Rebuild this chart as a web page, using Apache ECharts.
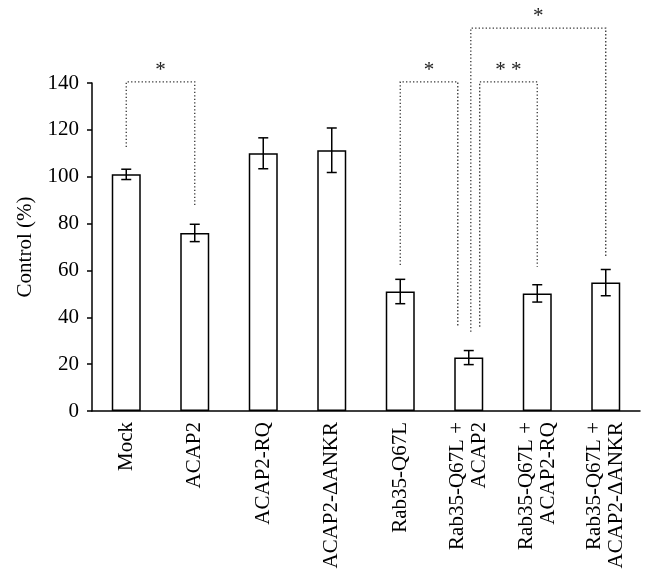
<!DOCTYPE html>
<html>
<head>
<meta charset="utf-8">
<script src="https://cdn.jsdelivr.net/npm/echarts@6/dist/echarts.min.js"></script>
<style>html,body{margin:0;padding:0;background:#fff}#c{width:652px;height:584px}</style>
</head>
<body>
<div id="c"></div>
<script>
const categories = ['Mock', 'ACAP2', 'ACAP2-RQ', 'ACAP2-\u0394ANKR', 'Rab35-Q67L',
  'Rab35-Q67L +\nACAP2', 'Rab35-Q67L +\nACAP2-RQ', 'Rab35-Q67L +\nACAP2-\u0394ANKR'];
const means = [101, 76, 110, 111.3, 51, 22.8, 50.2, 54.8];
const errors = [2.2, 3.7, 6.6, 9.5, 5.2, 3, 3.7, 5.6];
const yTicks = [0, 20, 40, 60, 80, 100, 120, 140];

// significance brackets
const bracketFrom = [0, 4, 5, 5];
const bracketTo = [1, 5, 6, 7];
const bracketTop = [140.5, 140.5, 140.5, 163.4];
const bracketLeftEnd = [112.7, 62.3, 36, 33.8];
const bracketRightEnd = [87.9, 36, 61.6, 65.9];
const bracketLabel = ['*', '*', '* *', '*'];

const font = '"Liberation Serif", "Times New Roman", serif';
const chart = echarts.init(document.getElementById('c'));

// horizontal shift of bracket legs (fraction of category width) so legs don't overlap
const legShift = [[0, 0], [0, -0.16], [0.16, 0], [0.03, 0]];

chart.setOption({
  animation: false,
  grid: { left: 92, right: 12, top: 83, bottom: 173 },
  xAxis: {
    type: 'category',
    data: categories,
    axisLine: { lineStyle: { color: '#000', width: 1.5 } },
    axisTick: { show: false },
    axisLabel: {
      rotate: 90, interval: 0, color: '#000', fontFamily: font, fontSize: 21,
      lineHeight: 22, margin: 11
    }
  },
  yAxis: {
    type: 'value', min: 0, max: 140, interval: 20,
    name: 'Control (%)', nameLocation: 'middle', nameGap: 56,
    nameTextStyle: { color: '#000', fontFamily: font, fontSize: 21 },
    splitLine: { show: false },
    axisLine: { show: true, lineStyle: { color: '#000', width: 1.5 } },
    axisTick: { show: true, length: 5, lineStyle: { color: '#000', width: 1.5 } },
    axisLabel: {
      color: '#000', fontFamily: font, fontSize: 21, margin: 13,
      formatter: v => yTicks.includes(v) ? String(v) : ''
    }
  },
  series: [
    {
      type: 'bar', data: means, barWidth: 29,
      itemStyle: { color: '#fff', borderColor: '#000', borderWidth: 1.5 }
    },
    {
      type: 'custom',
      data: means.map((m, i) => [i, m - errors[i], m + errors[i]]),
      renderItem: function (params, api) {
        const lo = api.coord([api.value(0), api.value(1)]);
        const hi = api.coord([api.value(0), api.value(2)]);
        const w = 5;
        const st = { stroke: '#000', lineWidth: 1.5 };
        return {
          type: 'group', children: [
            { type: 'line', shape: { x1: lo[0], y1: lo[1], x2: hi[0], y2: hi[1] }, style: st },
            { type: 'line', shape: { x1: lo[0] - w, y1: lo[1], x2: lo[0] + w, y2: lo[1] }, style: st },
            { type: 'line', shape: { x1: hi[0] - w, y1: hi[1], x2: hi[0] + w, y2: hi[1] }, style: st }
          ]
        };
      },
      z: 3
    },
    {
      type: 'custom',
      clip: false,
      data: bracketFrom.map((f, i) => [i]),
      renderItem: function (params, api) {
        const k = api.value(0);
        const bw = api.size([1, 0])[0];
        const a = api.coord([bracketFrom[k], bracketTop[k]]);
        const b = api.coord([bracketTo[k], bracketTop[k]]);
        const x1 = a[0] + legShift[k][0] * bw;
        const x2 = b[0] + legShift[k][1] * bw;
        const yl = api.coord([bracketFrom[k], bracketLeftEnd[k]])[1];
        const yr = api.coord([bracketTo[k], bracketRightEnd[k]])[1];
        const yt = a[1];
        const st = { stroke: '#333', lineWidth: 1.3, lineDash: [1.3, 2.2], fill: null };
        return {
          type: 'group', children: [
            { type: 'polyline', shape: { points: [[x1, yl], [x1, yt], [x2, yt], [x2, yr]] }, style: st },
            {
              type: 'text',
              style: {
                text: bracketLabel[k], x: (x1 + x2) / 2, y: yt - 1,
                textAlign: 'center', textVerticalAlign: 'bottom',
                font: '21px ' + font, fill: '#222'
              }
            }
          ]
        };
      },
      z: 4
    }
  ]
});
</script>
</body>
</html>
